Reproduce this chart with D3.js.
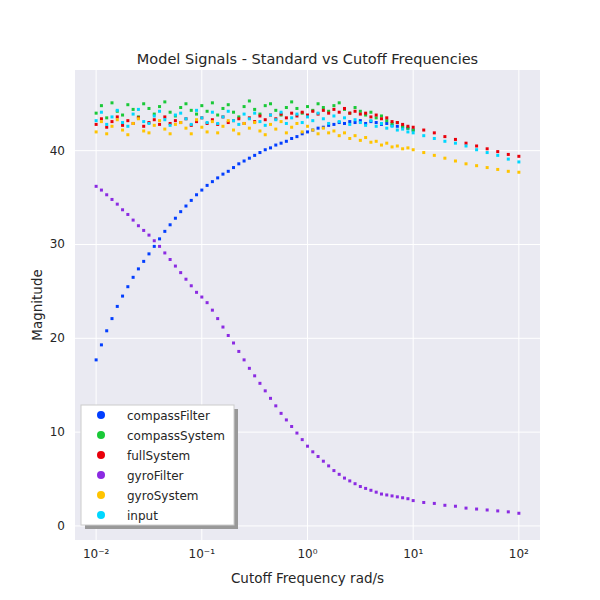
<!DOCTYPE html>
<html>
<head>
<meta charset="utf-8">
<script src="https://cdn.jsdelivr.net/npm/d3@7"></script>
<style>
  body { margin: 0; background: #fff; }
  text { font-family: "DejaVu Sans", sans-serif; }
</style>
</head>
<body>
<div id="chart"></div>
<script>
// log10 of cutoff frequency, dense part then sparse part
var expDense = [-2,-1.95,-1.9,-1.85,-1.8,-1.75,-1.7,-1.65,-1.6,-1.55,-1.5,-1.45,-1.4,-1.35,-1.3,-1.25,-1.2,-1.15,-1.1,-1.05,
  -1,-0.95,-0.9,-0.85,-0.8,-0.75,-0.7,-0.65,-0.6,-0.55,-0.5,-0.45,-0.4,-0.35,-0.3,-0.25,-0.2,-0.15,-0.1,-0.05,
  0,0.05,0.1,0.15,0.2,0.25,0.3,0.35,0.4,0.45,0.5,0.55,0.6,0.65,0.7,0.75,0.8,0.85,0.9,0.95,1];
var expSparse = [1.1,1.2,1.3,1.4,1.5,1.6,1.7,1.8,1.9,2];

var compassFilter = [17.7,19.3,20.8,22.1,23.4,24.5,25.5,26.5,27.4,28.2,29.0,29.8,30.6,31.4,32.1,32.8,33.5,34.1,34.7,35.3,
  35.8,36.3,36.7,37.1,37.5,37.8,38.2,38.6,38.9,39.2,39.5,39.8,40.1,40.3,40.6,40.8,41.0,41.3,41.5,41.8,
  42.0,42.2,42.4,42.5,42.7,42.8,43.0,42.9,43.1,43.0,43.2,42.9,43.1,43.0,42.8,42.9,42.7,42.6,42.5,42.4,42.2];
var compassSystem = [44.0,44.8,43.5,45.1,44.2,43.8,44.9,44.4,43.6,45.0,44.5,43.9,44.7,45.2,44.1,43.7,44.6,45.0,44.3,43.9,
  44.8,44.2,45.1,43.8,44.5,44.9,44.1,43.6,44.7,45.3,44.4,43.9,44.8,45.0,44.3,43.8,44.6,45.2,44.5,44.0,
  44.7,44.3,45.0,44.6,44.2,44.8,45.1,44.4,44.0,44.6,44.2,43.8,44.1,43.5,43.7,43.2,42.9,43.0,42.6,42.4,42.2];
var fullSystem = [42.8,43.4,42.5,43.1,43.6,42.7,43.2,42.9,43.5,42.6,43.0,43.3,42.8,43.6,42.9,43.2,43.0,43.4,42.7,43.1,
  43.5,42.9,43.3,42.8,43.6,43.0,43.2,43.4,42.9,43.5,43.1,43.7,43.3,43.8,43.4,43.9,43.5,44.0,43.7,44.1,
  43.8,44.2,43.9,44.3,44.0,44.4,44.1,44.5,44.0,44.2,43.9,44.0,43.6,43.8,43.4,43.5,43.1,43.0,42.8,42.6,42.5,
  42.2,41.9,41.5,41.2,40.8,40.5,40.2,39.9,39.6,39.4];
var gyroFilter = [36.2,35.8,35.3,34.8,34.3,33.7,33.2,32.6,32.0,31.5,31.0,30.4,29.8,29.1,28.4,27.7,27.0,26.3,25.6,24.9,
  24.4,23.8,23.0,22.1,21.2,20.3,19.5,18.6,17.7,16.8,16.0,15.2,14.4,13.6,12.8,12.0,11.3,10.6,9.9,9.2,
  8.5,7.9,7.4,6.9,6.4,5.9,5.5,5.1,4.8,4.5,4.2,4.0,3.8,3.6,3.4,3.3,3.2,3.1,3.0,2.9,2.7,
  2.5,2.4,2.2,2.1,1.9,1.8,1.7,1.6,1.5,1.35];
var gyroSystem = [42.0,43.1,41.8,42.6,43.3,42.2,41.7,42.9,43.4,42.1,41.9,42.7,43.2,42.3,41.8,42.8,43.0,42.4,41.8,43.3,
  42.5,42.0,43.1,41.9,42.6,43.2,42.2,41.8,42.9,42.4,43.0,42.1,41.7,42.8,42.3,43.1,41.9,42.5,42.9,42.0,
  42.6,42.2,41.8,42.4,41.9,42.1,41.6,41.9,41.3,41.6,41.1,41.4,40.9,41.0,40.6,40.8,40.4,40.5,40.2,40.3,40.1,
  39.8,39.5,39.2,38.9,38.6,38.4,38.2,38.0,37.8,37.7];
var input = [43.2,44.1,42.8,43.6,44.3,43.0,42.6,43.9,44.4,43.1,42.9,43.7,44.2,43.3,42.7,43.8,44.0,43.4,42.8,44.3,
  43.5,43.0,44.1,42.9,43.6,44.2,43.2,42.8,43.9,43.4,44.0,43.1,42.7,43.8,43.3,44.1,42.9,43.5,43.9,43.0,
  43.6,43.2,44.0,43.4,42.9,43.7,43.1,43.5,42.8,43.3,43.0,42.7,43.2,42.6,42.9,42.4,42.6,42.2,42.3,42.0,41.9,
  41.6,41.3,41.0,40.8,40.5,40.1,39.8,39.5,39.1,38.8];

var seriesNames = ["compassFilter","compassSystem","fullSystem","gyroFilter","gyroSystem","input"];
var seriesValues = [compassFilter, compassSystem, fullSystem, gyroFilter, gyroSystem, input];
var colors = ["#023eff","#1ac938","#e8000b","#8b2be2","#ffc400","#00d7ff"];
var yTicks = [0,10,20,30,40];
var xTicks = [0.01,0.1,1,10,100];

var svgWidth = 600, svgHeight = 600;
var margin = {top: 70, right: 60, bottom: 60, left: 75};
var width = svgWidth - margin.left - margin.right;
var height = svgHeight - margin.top - margin.bottom;

var svg = d3.select("#chart").append("svg")
  .attr("width", svgWidth).attr("height", svgHeight);
var g = svg.append("g").attr("transform", `translate(${margin.left},${margin.top})`);

var x = d3.scaleLog().domain([Math.pow(10,-2.2), Math.pow(10,2.2)]).range([0, width]);
var y = d3.scaleLinear().domain([-1.5, 48.6]).range([height, 0]);

g.append("rect").attr("width", width).attr("height", height).attr("fill", "#eaeaf2");

// grid
g.selectAll(".gx").data(xTicks).enter().append("line")
  .attr("x1", d => x(d)).attr("x2", d => x(d)).attr("y1", 0).attr("y2", height)
  .attr("stroke", "#fff").attr("stroke-width", 1);
g.selectAll(".gy").data(yTicks).enter().append("line")
  .attr("y1", d => y(d)).attr("y2", d => y(d)).attr("x1", 0).attr("x2", width)
  .attr("stroke", "#fff").attr("stroke-width", 1);

// points
var allExp = expDense.concat(expSparse);
seriesValues.forEach(function(vals, i) {
  var pts = vals.map((v, j) => ({f: Math.pow(10, allExp[j]), v: v}));
  g.append("g").selectAll("rect").data(pts).enter().append("rect")
    .attr("x", d => x(d.f) - 1.5).attr("y", d => y(d.v) - 1.5)
    .attr("width", 3).attr("height", 3)
    .attr("fill", colors[i]);
});

// tick labels
var supers = {"-2":"\u207b\u00b2","-1":"\u207b\u00b9","0":"\u2070","1":"\u00b9","2":"\u00b2"};
g.selectAll(".xt").data(xTicks).enter().append("text")
  .attr("x", d => x(d)).attr("y", height + 18)
  .attr("text-anchor", "middle").attr("font-size", 12).attr("fill", "#262626")
  .text(d => "10" + supers[Math.round(Math.log10(d))]);
g.selectAll(".yt").data(yTicks).enter().append("text")
  .attr("x", -10).attr("y", d => y(d) + 4)
  .attr("text-anchor", "end").attr("font-size", 12).attr("fill", "#262626")
  .text(d => d);

// titles
svg.append("text").attr("x", margin.left + width / 2).attr("y", 64)
  .attr("text-anchor", "middle").attr("font-size", 14.5).attr("fill", "#262626")
  .text("Model Signals - Standard vs Cutoff Frequencies");
svg.append("text").attr("x", margin.left + width / 2).attr("y", 583)
  .attr("text-anchor", "middle").attr("font-size", 13.5).attr("fill", "#262626")
  .text("Cutoff Frequency rad/s");
svg.append("text").attr("transform", `translate(42,${margin.top + height / 2}) rotate(-90)`)
  .attr("text-anchor", "middle").attr("font-size", 13.5).attr("fill", "#262626")
  .text("Magnitude");

// legend
var lg = svg.append("g").attr("transform", "translate(81,405)");
lg.append("rect").attr("x", 4).attr("y", 4).attr("width", 153).attr("height", 120).attr("fill", "#999");
lg.append("rect").attr("width", 153).attr("height", 120).attr("fill", "#fff").attr("stroke", "#ccc");
seriesNames.forEach(function(n, i) {
  lg.append("circle").attr("cx", 20).attr("cy", 10 + i * 20).attr("r", 4).attr("fill", colors[i]);
  lg.append("text").attr("x", 46).attr("y", 14.5 + i * 20).attr("font-size", 12).attr("fill", "#262626").text(n);
});
</script>
</body>
</html>
